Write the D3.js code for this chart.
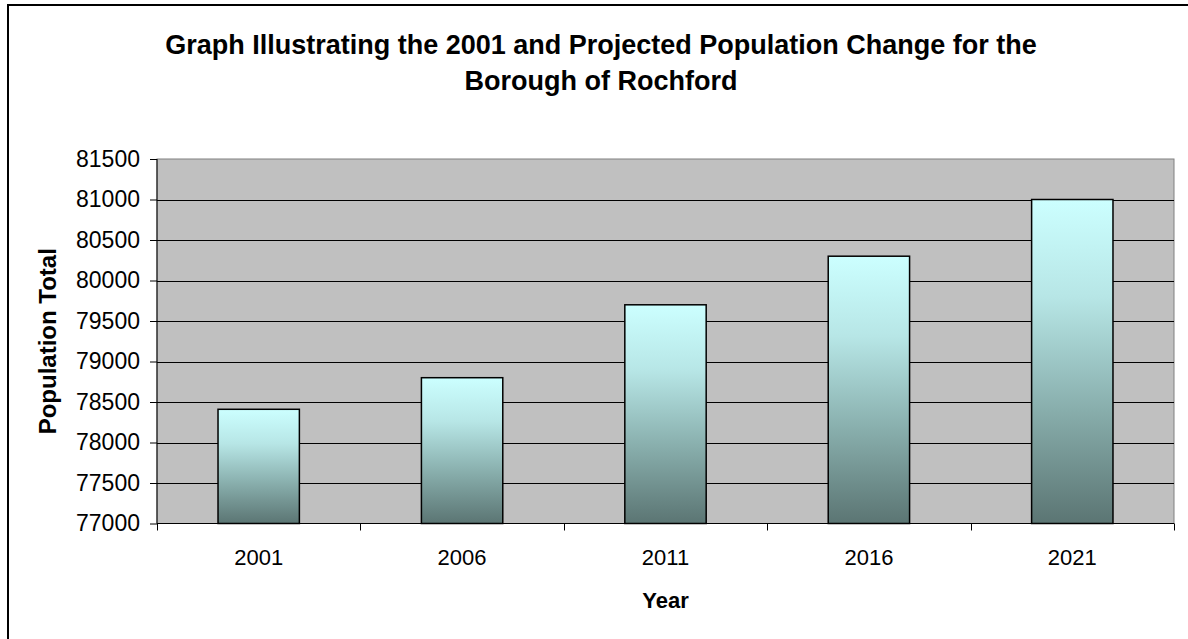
<!DOCTYPE html>
<html>
<head>
<meta charset="utf-8">
<script src="https://cdn.jsdelivr.net/npm/d3@7"></script>
<style>
  html, body { margin: 0; padding: 0; background: #fff; }
  svg { display: block; font-family: Arial, "Liberation Sans", sans-serif; }
</style>
</head>
<body>
<svg id="chart" width="1188" height="639"></svg>
<script>
// Population totals for the Borough of Rochford (2001 census and projections)
const years = ["2001", "2006", "2011", "2016", "2021"];
const population = [78410, 78800, 79700, 80300, 81000];
const yTicks = [77000, 77500, 78000, 78500, 79000, 79500, 80000, 80500, 81000, 81500];
const titleLines = [
  "Graph Illustrating the 2001 and Projected Population Change for the",
  "Borough of Rochford"
];
const xTitle = "Year";
const yTitle = "Population Total";

const svg = d3.select("#chart");
const W = 1188, H = 639;
const plot = { left: 157, top: 159, right: 1174, bottom: 523.5 };

// chart frame
svg.append("rect")
  .attr("x", 8).attr("y", 5)
  .attr("width", W + 20).attr("height", H + 20)
  .attr("fill", "#fff").attr("stroke", "#000").attr("stroke-width", 2);

// bar gradient
const defs = svg.append("defs");
const grad = defs.append("linearGradient")
  .attr("id", "barFill").attr("x1", 0).attr("y1", 0).attr("x2", 0).attr("y2", 1);
grad.append("stop").attr("offset", "0%").attr("stop-color", "#ccffff");
grad.append("stop").attr("offset", "30%").attr("stop-color", "#b7e6e6");
grad.append("stop").attr("offset", "65%").attr("stop-color", "#88aeac");
grad.append("stop").attr("offset", "100%").attr("stop-color", "#5b7573");

const xCat = d3.scaleBand().domain(years).range([plot.left, plot.right]);
const y = d3.scaleLinear().domain([77000, 81500]).range([plot.bottom, plot.top]);

// plot area
svg.append("rect")
  .attr("x", plot.left).attr("y", plot.top)
  .attr("width", plot.right - plot.left).attr("height", plot.bottom - plot.top)
  .attr("fill", "#c0c0c0").attr("stroke", "#808080").attr("stroke-width", 1);

// gridlines
svg.append("g").selectAll("line")
  .data(yTicks.filter(v => v > 77000 && v < 81500))
  .join("line")
  .attr("x1", plot.left).attr("x2", plot.right)
  .attr("y1", d => Math.round(y(d)) + 0.5).attr("y2", d => Math.round(y(d)) + 0.5)
  .attr("stroke", "#000").attr("stroke-width", 1);

// bars (40% of each category slot, centred)
svg.append("g").selectAll("rect")
  .data(years.map((yr, i) => ({ yr, v: population[i] })))
  .join("rect")
  .attr("x", d => xCat(d.yr) + xCat.bandwidth() * 0.3)
  .attr("width", xCat.bandwidth() * 0.4)
  .attr("y", d => y(d.v))
  .attr("height", d => y(77000) - y(d.v))
  .attr("fill", "url(#barFill)")
  .attr("stroke", "#000").attr("stroke-width", 1.5);

// y axis
const yAxis = d3.axisLeft(y).tickValues(yTicks).tickSize(7).tickPadding(10).tickFormat(d3.format("d"));
const gy = svg.append("g").attr("transform", `translate(${plot.left},0)`).call(yAxis);
gy.select(".domain").attr("stroke", "#000").attr("d", `M0,${plot.top}V${plot.bottom}`);
gy.selectAll(".tick line").attr("stroke", "#000");
gy.selectAll("text").attr("font-size", 23).attr("fill", "#000")
  .attr("font-family", "Arial, 'Liberation Sans', sans-serif");

// x axis: tick marks at category boundaries, labels at centres
const gx = svg.append("g").attr("transform", `translate(0,${plot.bottom})`);
gx.append("line").attr("x1", plot.left).attr("x2", plot.right)
  .attr("y1", 0).attr("y2", 0).attr("stroke", "#000").attr("stroke-width", 1.2);
const boundaries = years.map(d => xCat(d)).concat([plot.right]);
gx.selectAll("line.tk").data(boundaries).join("line").attr("class", "tk")
  .attr("x1", d => Math.round(d) + 0.5).attr("x2", d => Math.round(d) + 0.5)
  .attr("y1", 0).attr("y2", 7).attr("stroke", "#000");
gx.selectAll("text").data(years).join("text")
  .attr("x", d => xCat(d) + xCat.bandwidth() / 2)
  .attr("y", 41.5)
  .attr("text-anchor", "middle")
  .attr("font-size", 22).attr("fill", "#000")
  .text(d => d);

// axis titles
svg.append("text")
  .attr("x", (plot.left + plot.right) / 2).attr("y", 608)
  .attr("text-anchor", "middle").attr("font-weight", "bold").attr("font-size", 22)
  .text(xTitle);
svg.append("text")
  .attr("transform", `translate(56,${(plot.top + plot.bottom) / 2}) rotate(-90)`)
  .attr("text-anchor", "middle").attr("font-weight", "bold").attr("font-size", 24)
  .text(yTitle);

// chart title, centred over the chart frame
svg.append("g").selectAll("text").data(titleLines).join("text")
  .attr("x", 601).attr("y", (d, i) => 54 + i * 36)
  .attr("text-anchor", "middle").attr("font-weight", "bold").attr("font-size", 27)
  .text(d => d);
</script>
</body>
</html>
